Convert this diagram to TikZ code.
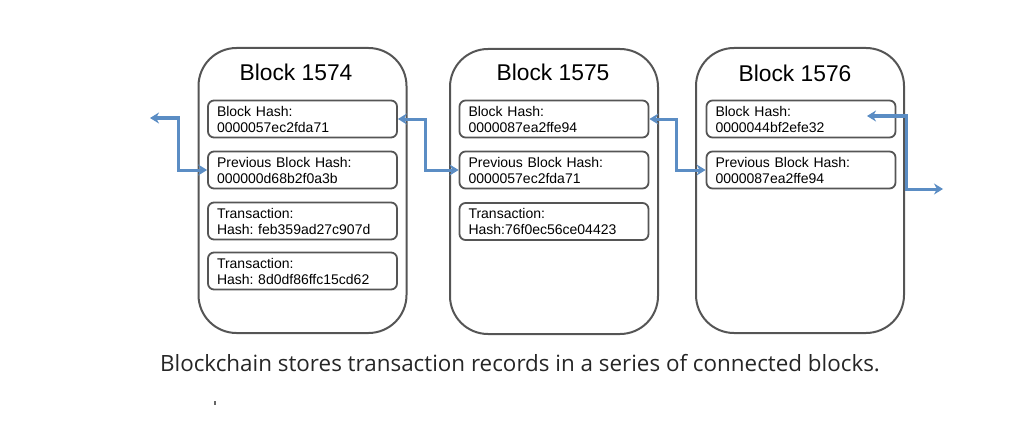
\documentclass[tikz,border=0pt]{standalone}
\usepackage{fontspec}
\setmainfont{Liberation Sans}
\newfontfamily\captionfont{Open Sans}
\usetikzlibrary{arrows.meta}
\definecolor{linkblue}{HTML}{5B8DC4}
\definecolor{edgegray}{HTML}{555555}
\frenchspacing

\begin{document}
\begin{tikzpicture}[x=1pt, y=-1pt,
        block/.style={draw=edgegray, line width=2pt, rounded corners=38pt, minimum width=208pt, minimum height=285pt},
        field/.style={draw=edgegray, line width=1.8pt, rounded corners=6pt, minimum width=189pt, minimum height=37pt, text width=171pt, align=left, inner sep=0pt, font=\fontsize{14}{16}\selectfont},
        title/.style={font=\fontsize{22.8}{26}\selectfont},
        link/.style={linkblue, line width=3pt, {Stealth[length=9pt,width=11pt]}-{Stealth[length=9pt,width=11pt]}}]
        \useasboundingbox (0, 0) rectangle (1024, 433);

        \node[block] (b1) at (302.5, 190.5) {};
        \node[title] (b1title) at (296, 72) {Block 1574};
        \node[field] (b1hash) at (302.5, 119) {Block Hash:\\0000057ec2fda71};
        \node[field] (b1prev) at (302.5, 170) {Previous Block Hash:\\000000d68b2f0a3b};
        \node[field] (b1tx1) at (302.5, 221) {Transaction:\\Hash: feb359ad27c907d};
        \node[field] (b1tx2) at (302.5, 271) {Transaction:\\Hash: 8d0df86ffc15cd62};

        \node[block] (b2) at (554, 191.5) {};
        \node[title] (b2title) at (553, 72) {Block 1575};
        \node[field] (b2hash) at (554, 119) {Block Hash:\\0000087ea2ffe94};
        \node[field] (b2prev) at (554, 170) {Previous Block Hash:\\0000057ec2fda71};
        \node[field] (b2tx1) at (554, 221.5) {Transaction:\\Hash:76f0ec56ce04423};

        \node[block] (b3) at (800, 190.5) {};
        \node[title] (b3title) at (795, 73) {Block 1576};
        \node[field] (b3hash) at (801, 119) {Block Hash:\\0000044bf2efe32};
        \node[field] (b3prev) at (801, 170) {Previous Block Hash:\\0000087ea2ffe94};

        \coordinate (outL) at (150, 118);
        \coordinate (kneeL) at (178, 118);
        \coordinate (in3) at (867, 116);
        \coordinate (kneeR) at (906, 116);
        \coordinate (outR) at (943, 189);

        \draw[link] (outL) -- (kneeL) |- (b1prev.west);
        \draw[link] (b1hash.east) -- ++(28, 0) |- (b2prev.west);
        \draw[link] (b2hash.east) -- ++(27, 0) |- (b3prev.west);
        \draw[link] (in3) -- (kneeR) |- (outR);

        \node[font=\captionfont\fontsize{22.4}{26}\selectfont, text=black!85] (caption) at (520, 363) {Blockchain stores transaction records in a series of connected blocks.};
        \fill[black!60] (214, 401) rectangle (216, 405);
    \end{tikzpicture}
\end{document}
